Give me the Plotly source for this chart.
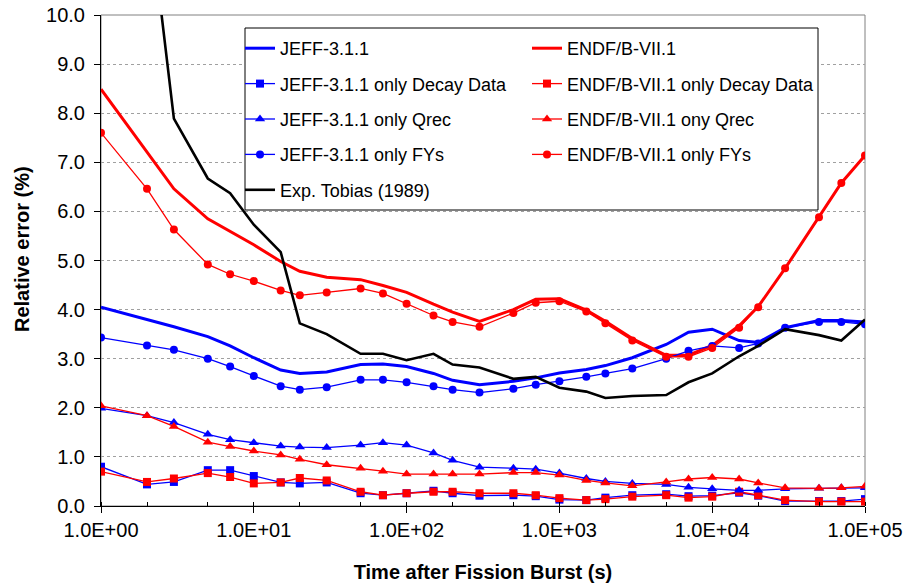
import plotly.graph_objects as go

times = [1, 2, 3, 5, 7, 10, 15, 20, 30, 50, 70, 100, 150, 200, 300, 500, 700,
         1000, 1500, 2000, 3000, 5000, 7000, 10000, 15000, 20000, 30000, 50000, 70000, 100000]

jeff_total = [4.05, 3.80, 3.65, 3.45, 3.26, 3.02, 2.77, 2.70, 2.73, 2.88, 2.89, 2.84, 2.70, 2.56, 2.47,
              2.54, 2.61, 2.71, 2.78, 2.86, 3.02, 3.29, 3.54, 3.60, 3.37, 3.33, 3.63, 3.78, 3.78, 3.75]
endf_total = [8.49, 7.22, 6.46, 5.85, 5.59, 5.32, 4.98, 4.78, 4.66, 4.61, 4.49, 4.35, 4.11, 3.95, 3.76,
              4.00, 4.21, 4.22, 3.99, 3.76, 3.41, 3.07, 3.07, 3.27, 3.67, 4.06, 4.84, 5.88, 6.58, 7.14]
jeff_dd = [0.80, 0.44, 0.49, 0.73, 0.73, 0.61, 0.48, 0.46, 0.48, 0.26, 0.22, 0.26, 0.31, 0.26, 0.21,
           0.22, 0.20, 0.13, 0.12, 0.17, 0.22, 0.24, 0.20, 0.21, 0.27, 0.21, 0.10, 0.10, 0.10, 0.14]
endf_dd = [0.70, 0.49, 0.56, 0.67, 0.59, 0.46, 0.48, 0.57, 0.52, 0.29, 0.22, 0.26, 0.29, 0.29, 0.26,
           0.26, 0.22, 0.16, 0.12, 0.14, 0.19, 0.22, 0.17, 0.19, 0.29, 0.22, 0.12, 0.09, 0.09, 0.09]
jeff_qrec = [1.99, 1.84, 1.70, 1.46, 1.35, 1.29, 1.22, 1.20, 1.19, 1.24, 1.29, 1.24, 1.08, 0.93, 0.79,
             0.77, 0.75, 0.67, 0.56, 0.50, 0.46, 0.44, 0.38, 0.35, 0.32, 0.32, 0.35, 0.36, 0.37, 0.37]
endf_qrec = [2.04, 1.84, 1.62, 1.30, 1.21, 1.12, 1.04, 0.95, 0.84, 0.77, 0.71, 0.65, 0.65, 0.65, 0.65,
             0.68, 0.68, 0.63, 0.52, 0.47, 0.41, 0.49, 0.55, 0.58, 0.55, 0.47, 0.37, 0.36, 0.37, 0.40]
jeff_fy = [3.43, 3.27, 3.18, 3.00, 2.84, 2.65, 2.44, 2.37, 2.42, 2.57, 2.57, 2.52, 2.44, 2.37, 2.31,
           2.39, 2.47, 2.54, 2.63, 2.70, 2.80, 3.00, 3.16, 3.26, 3.22, 3.31, 3.63, 3.75, 3.75, 3.70]
endf_fy = [7.60, 6.46, 5.63, 4.92, 4.72, 4.58, 4.39, 4.29, 4.35, 4.43, 4.33, 4.12, 3.88, 3.75, 3.65,
           3.93, 4.14, 4.17, 3.96, 3.72, 3.37, 3.04, 3.04, 3.22, 3.63, 4.05, 4.84, 5.88, 6.58, 7.14]

tobias_t = [2, 3, 5, 7, 10, 15, 20, 30, 50, 70, 100, 150, 200, 300, 500, 700,
            1000, 1500, 2000, 3000, 5000, 7000, 10000, 15000, 20000, 30000, 50000, 70000, 100000]
tobias = [12.5, 7.89, 6.67, 6.37, 5.73, 5.17, 3.72, 3.50, 3.10, 3.10, 2.97, 3.10, 2.88, 2.82,
          2.59, 2.63, 2.41, 2.33, 2.20, 2.24, 2.26, 2.52, 2.70, 3.05, 3.26, 3.60, 3.48, 3.37, 3.80]

x_tickvals = [1, 10, 100, 1000, 10000, 100000]
x_ticktext = ["1.0E+00", "1.0E+01", "1.0E+02", "1.0E+03", "1.0E+04", "1.0E+05"]

BLUE = "#0000FF"
RED = "#FF0000"
FONT = "Liberation Sans, Arial, sans-serif"

fig = go.Figure()

def add(x, y, name, color, width, symbol=None, msize=7, legend="legend", group=None, opacity=1.0):
    mode = "lines+markers" if symbol else "lines"
    fig.add_trace(go.Scatter(
        x=x, y=y, name=name, mode=mode,
        line=dict(color=color, width=width),
        marker=dict(symbol=symbol, size=msize, color=color) if symbol else None,
        legend=legend, legendgroup=group or name, opacity=opacity,
    ))

add(times, jeff_total, "JEFF-3.1.1", BLUE, 3)
add(times, endf_total, "ENDF/B-VII.1", RED, 3, legend="legend2")
add(times, jeff_dd, "JEFF-3.1.1 only Decay Data", BLUE, 1.3, "square", 8)
add(times, endf_dd, "ENDF/B-VII.1 only Decay Data", RED, 1.3, "square", 8, legend="legend2")
add(times, jeff_qrec, "JEFF-3.1.1 only Qrec", BLUE, 1.3, "triangle-up", 9)
add(times, endf_qrec, "ENDF/B-VII.1 ony Qrec", RED, 1.3, "triangle-up", 9, legend="legend2")
add(times, jeff_fy, "JEFF-3.1.1 only FYs", BLUE, 1.3, "circle", 8)
add(times, endf_fy, "ENDF/B-VII.1 only FYs", RED, 1.3, "circle", 8, legend="legend2")
add(tobias_t, tobias, "Exp. Tobias (1989)", "#000000", 2.6)

W, H = 906, 585
L, R, T, B = 101, 41, 15, 79
pw, ph = W - L - R, H - T - B

def px2x(px):
    return (px - L) / pw

def py2y(py):
    return (H - B - py) / ph

legend_common = dict(
    font=dict(family=FONT, size=18, color="#000000"),
    bgcolor="rgba(0,0,0,0)", borderwidth=0,
    traceorder="grouped", tracegroupgap=9,
    xanchor="left", yanchor="top", orientation="v",
)

fig.update_layout(
    width=W, height=H,
    margin=dict(l=L, r=R, t=T, b=B, autoexpand=False),
    paper_bgcolor="white", plot_bgcolor="white",
    font=dict(family=FONT, color="#000000"),
    showlegend=True,
    legend=dict(x=px2x(240), y=py2y(30), **legend_common),
    legend2=dict(x=px2x(527), y=py2y(30), **legend_common),
    xaxis=dict(
        type="log", range=[0, 5], automargin=False,
        tickvals=x_tickvals, ticktext=x_ticktext,
        tickfont=dict(family=FONT, size=20, color="#000000"),
        ticks="outside", ticklen=6, tickcolor="#000000",
        minor=dict(ticks="inside", ticklen=4, tickcolor="#000000", showgrid=False),
        showline=True, linecolor="#000000", linewidth=1,
        showgrid=False, zeroline=False,
        title=dict(text="<b>Time after Fission Burst (s)</b>",
                   font=dict(family=FONT, size=20, color="#000000"), standoff=24),
    ),
    yaxis=dict(
        range=[0, 10], dtick=1, tickformat=".1f", automargin=False,
        tickfont=dict(family=FONT, size=20, color="#000000"),
        ticks="outside", ticklen=6, tickcolor="#000000", ticklabelstandoff=5,
        showline=True, linecolor="#000000", linewidth=1,
        showgrid=True, gridcolor="#A0A0A0", griddash="dot", gridwidth=1,
        zeroline=False,
    ),
    annotations=[
        dict(text="<b>Relative error (%)</b>", xref="paper", yref="paper",
             x=px2x(22), y=py2y(249), xanchor="center", yanchor="middle",
             textangle=-90, showarrow=False,
             font=dict(family=FONT, size=20, color="#000000")),
    ],
    shapes=[
        dict(type="rect", xref="paper", yref="paper", x0=0, x1=1, y0=0, y1=1,
             line=dict(color="#808080", width=1), layer="below"),
        dict(type="rect", xref="paper", yref="paper",
             x0=px2x(245), x1=px2x(818), y0=py2y(210), y1=py2y(28),
             line=dict(color="#000000", width=1), fillcolor="white", layer="above"),
    ],
)

fig.write_html("out.html")
